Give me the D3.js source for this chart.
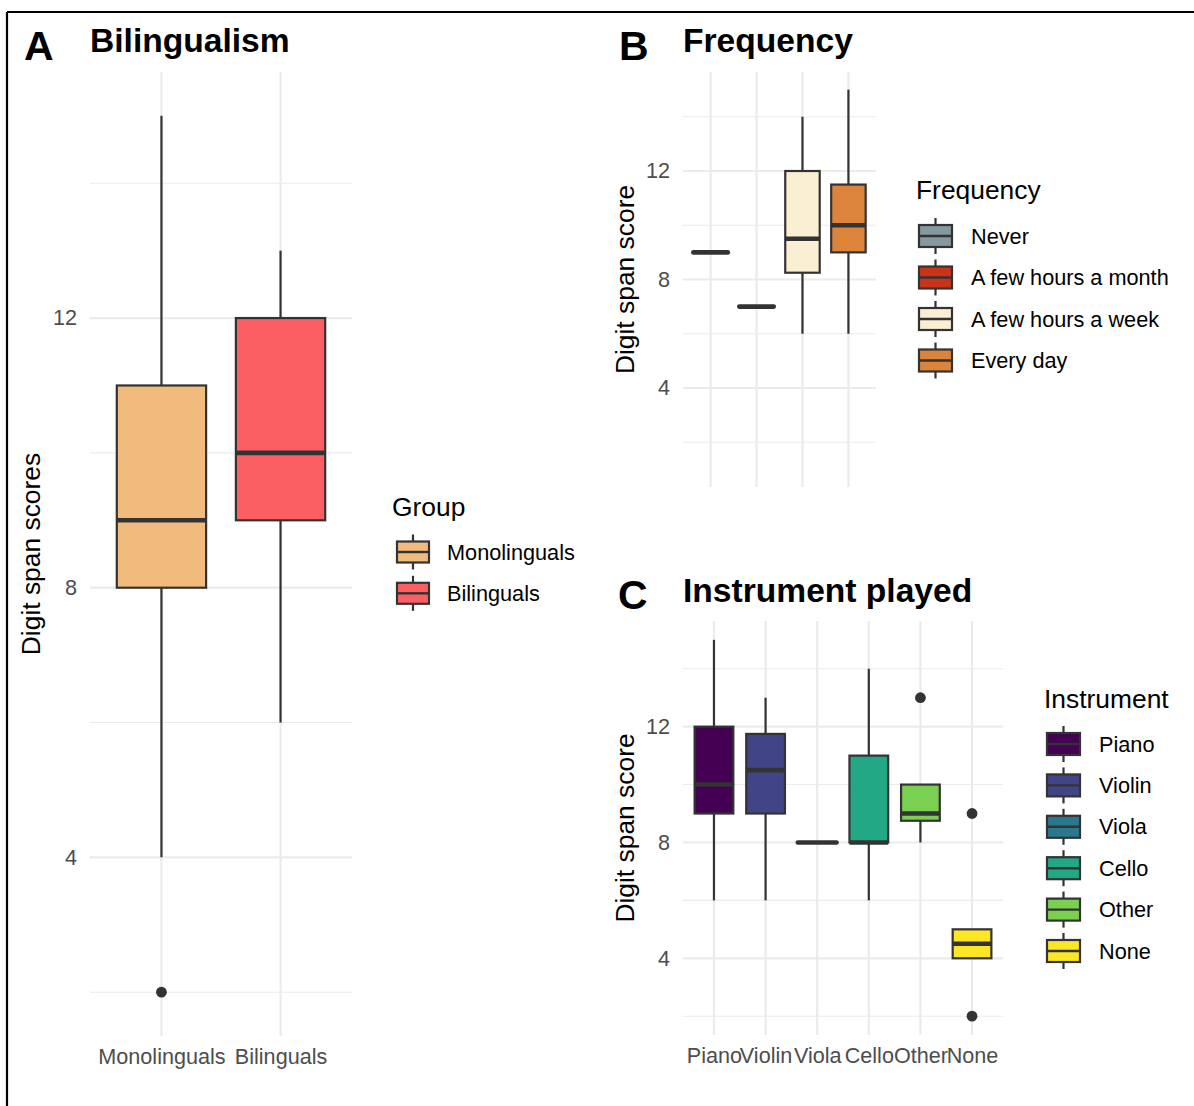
<!DOCTYPE html>
<html>
<head>
<meta charset="utf-8">
<script src="https://cdn.jsdelivr.net/npm/d3@7"></script>
<style>
  html, body { margin: 0; padding: 0; background: #fff; }
  svg text { font-family: "Liberation Sans", Arial, Helvetica, sans-serif; }
</style>
</head>
<body>
<svg id="fig" width="1194" height="1106"></svg>
<script>
// ---- Panel A: bilingualism ----
const groupCats = ["Monolinguals", "Bilinguals"];
const groupLow = [4, 6];
const groupQ1 = [8, 9];
const groupMed = [9, 10];
const groupQ3 = [11, 12];
const groupHigh = [15, 13];
const groupOut = [[2], []];
const groupColors = ["#f0bb7c", "#fc5f63"];

// ---- Panel B: practice frequency ----
const freqCats = ["Never", "A few hours a month", "A few hours a week", "Every day"];
const freqLow = [9, 7, 6, 6];
const freqQ1 = [9, 7, 8.25, 9];
const freqMed = [9, 7, 9.5, 10];
const freqQ3 = [9, 7, 12, 11.5];
const freqHigh = [9, 7, 14, 15];
const freqOut = [[], [], [], []];
const freqColors = ["#8699a1", "#c93318", "#faefd3", "#dc843b"];

// ---- Panel C: instrument played ----
const instrCats = ["Piano", "Violin", "Viola", "Cello", "Other", "None"];
const instrLow = [6, 6, 8, 6, 8, 4];
const instrQ1 = [9, 9, 8, 8, 8.75, 4];
const instrMed = [10, 10.5, 8, 8, 9, 4.5];
const instrQ3 = [12, 11.75, 8, 11, 10, 5];
const instrHigh = [15, 13, 8, 14, 10, 5];
const instrOut = [[], [], [], [], [13], [9, 2]];
const instrColors = ["#440154", "#414487", "#2a788e", "#22a884", "#7ad151", "#fde725"];

const majorTicks = [4, 8, 12];
const minorTicks = [2, 6, 10, 14];

const svg = d3.select("#fig");
const INK = "#333333";
const GRID = "#ebebeb";
const TICK_TXT = "#4d4d4d";
const AXIS_FS = "21.6px";
const LEG_FS = "21.7px";
const TITLE_FS = "26.4px";

// outer frame (top and left edges)
svg.append("line").attr("x1", 7).attr("x2", 1194).attr("y1", 12).attr("y2", 12)
  .attr("stroke", "#000").attr("stroke-width", 2.2);
svg.append("line").attr("x1", 7).attr("x2", 7).attr("y1", 12).attr("y2", 1106)
  .attr("stroke", "#000").attr("stroke-width", 2.2);

function boxPanel(cfg) {
  const g = svg.append("g");
  // categories placed like a discrete scale with 0.6 units of padding each side
  const n = cfg.cats.length;
  const unit = (cfg.right - cfg.left) / (n - 1 + 1.2);
  const cx = d3.scalePoint().domain(cfg.cats)
    .range([cfg.left + 0.6 * unit, cfg.right - 0.6 * unit]);
  const y = d3.scaleLinear().domain(cfg.domain).range([cfg.bottom, cfg.top]);
  const bw = 0.75 * unit;

  // gridlines
  g.selectAll(".minor").data(minorTicks).join("line")
    .attr("x1", cfg.left).attr("x2", cfg.right)
    .attr("y1", d => y(d)).attr("y2", d => y(d))
    .attr("stroke", GRID).attr("stroke-width", 1.1);
  g.selectAll(".major").data(majorTicks).join("line")
    .attr("x1", cfg.left).attr("x2", cfg.right)
    .attr("y1", d => y(d)).attr("y2", d => y(d))
    .attr("stroke", GRID).attr("stroke-width", 2.2);
  g.selectAll(".vgrid").data(cfg.cats).join("line")
    .attr("x1", d => cx(d)).attr("x2", d => cx(d))
    .attr("y1", cfg.top).attr("y2", cfg.bottom)
    .attr("stroke", GRID).attr("stroke-width", 2.2);

  // y axis tick labels
  const yAxis = d3.axisLeft(y).tickValues(majorTicks).tickSize(0).tickPadding(13);
  const ya = g.append("g").attr("transform", `translate(${cfg.left},0)`).call(yAxis);
  ya.select(".domain").remove();
  ya.selectAll("text").attr("fill", TICK_TXT).style("font-size", AXIS_FS)
    .style("font-family", '"Liberation Sans", Arial, sans-serif');

  // x axis tick labels
  if (cfg.xLabels) {
    const xAxis = d3.axisBottom(cx).tickSize(0).tickPadding(0);
    const xa = g.append("g").attr("transform", `translate(0,${cfg.bottom})`).call(xAxis);
    xa.select(".domain").remove();
    xa.selectAll("text").attr("fill", TICK_TXT).style("font-size", AXIS_FS)
      .style("font-family", '"Liberation Sans", Arial, sans-serif')
      .attr("dy", null).attr("y", 28);
  }

  // boxes
  const rows = cfg.cats.map((c, i) => ({
    c, low: cfg.low[i], q1: cfg.q1[i], med: cfg.med[i], q3: cfg.q3[i],
    high: cfg.high[i], out: cfg.out[i], fill: cfg.colors[i]
  }));
  const b = g.selectAll(".box").data(rows).join("g");
  b.append("line")
    .attr("x1", d => cx(d.c)).attr("x2", d => cx(d.c))
    .attr("y1", d => y(d.high)).attr("y2", d => y(d.q3))
    .attr("stroke", INK).attr("stroke-width", 2.2);
  b.append("line")
    .attr("x1", d => cx(d.c)).attr("x2", d => cx(d.c))
    .attr("y1", d => y(d.q1)).attr("y2", d => y(d.low))
    .attr("stroke", INK).attr("stroke-width", 2.2);
  b.filter(d => d.q3 > d.q1).append("rect")
    .attr("x", d => cx(d.c) - bw / 2).attr("width", bw)
    .attr("y", d => y(d.q3)).attr("height", d => y(d.q1) - y(d.q3))
    .attr("fill", d => d.fill).attr("stroke", INK).attr("stroke-width", 2.2);
  b.append("line")
    .attr("x1", d => cx(d.c) - bw / 2).attr("x2", d => cx(d.c) + bw / 2)
    .attr("y1", d => y(d.med)).attr("y2", d => y(d.med))
    .attr("stroke", INK).attr("stroke-width", 4.6)
    .attr("stroke-linecap", d => d.q3 > d.q1 ? "butt" : "round");
  b.each(function (d) {
    d3.select(this).selectAll("circle").data(d.out).join("circle")
      .attr("cx", cx(d.c)).attr("cy", v => y(v)).attr("r", 5.4).attr("fill", INK);
  });

  // axis title
  g.append("text")
    .attr("transform", `translate(${cfg.yTitleX},${(cfg.top + cfg.bottom) / 2}) rotate(-90)`)
    .attr("text-anchor", "middle").style("font-size", TITLE_FS).attr("fill", "#000")
    .text(cfg.yTitle);

  // plot title and panel tag
  svg.append("text").attr("x", cfg.tagX).attr("y", cfg.tagY)
    .style("font-size", "41px").style("font-weight", "bold").text(cfg.tag);
  svg.append("text").attr("x", cfg.left).attr("y", cfg.titleY)
    .style("font-size", "33.6px").style("font-weight", "bold").text(cfg.title);

  // legend
  const lg = svg.append("g");
  lg.append("text").attr("x", cfg.legX).attr("y", cfg.legTitleY)
    .style("font-size", TITLE_FS).text(cfg.legTitle);
  const kw = cfg.keyW, kh = cfg.keyH;
  cfg.cats.forEach((c, i) => {
    const cy = cfg.legY0 + i * cfg.legStep;
    const kx = cfg.legX + cfg.keyDx;
    lg.append("line").attr("x1", kx + kw / 2).attr("x2", kx + kw / 2)
      .attr("y1", cy - kh / 2 - 7).attr("y2", cy + kh / 2 + 7)
      .attr("stroke", INK).attr("stroke-width", 2.2);
    lg.append("rect").attr("x", kx).attr("y", cy - kh / 2).attr("width", kw).attr("height", kh)
      .attr("fill", cfg.colors[i]).attr("stroke", INK).attr("stroke-width", 2.2);
    lg.append("line").attr("x1", kx).attr("x2", kx + kw)
      .attr("y1", cy).attr("y2", cy).attr("stroke", INK).attr("stroke-width", 2.4);
    lg.append("text").attr("x", cfg.legLabelX).attr("y", cy + 7.5)
      .style("font-size", LEG_FS).text(c);
  });
}

boxPanel({
  cats: groupCats, low: groupLow, q1: groupQ1, med: groupMed, q3: groupQ3,
  high: groupHigh, out: groupOut, colors: groupColors,
  left: 90, right: 352, top: 72, bottom: 1036, domain: [1.35, 15.65],
  xLabels: true, yTitle: "Digit span scores", yTitleX: 40,
  tag: "A", tagX: 24, tagY: 60, title: "Bilingualism", titleY: 52,
  legTitle: "Group", legX: 392, legTitleY: 516, keyDx: 5, keyW: 32, keyH: 21,
  legY0: 552, legStep: 41.3, legLabelX: 447
});

boxPanel({
  cats: freqCats, low: freqLow, q1: freqQ1, med: freqMed, q3: freqQ3,
  high: freqHigh, out: freqOut, colors: freqColors,
  left: 683, right: 876, top: 72, bottom: 487, domain: [0.35, 15.65],
  xLabels: false, yTitle: "Digit span score", yTitleX: 634,
  tag: "B", tagX: 619, tagY: 60, title: "Frequency", titleY: 52,
  legTitle: "Frequency", legX: 916, legTitleY: 199, keyDx: 3, keyW: 33, keyH: 22,
  legY0: 236, legStep: 41.5, legLabelX: 971
});

boxPanel({
  cats: instrCats, low: instrLow, q1: instrQ1, med: instrMed, q3: instrQ3,
  high: instrHigh, out: instrOut, colors: instrColors,
  left: 683, right: 1003, top: 621, bottom: 1035, domain: [1.35, 15.65],
  xLabels: true, yTitle: "Digit span score", yTitleX: 634,
  tag: "C", tagX: 618, tagY: 609, title: "Instrument played", titleY: 602,
  legTitle: "Instrument", legX: 1044, legTitleY: 708, keyDx: 3, keyW: 33, keyH: 22,
  legY0: 744, legStep: 41.4, legLabelX: 1099
});
</script>
</body>
</html>
